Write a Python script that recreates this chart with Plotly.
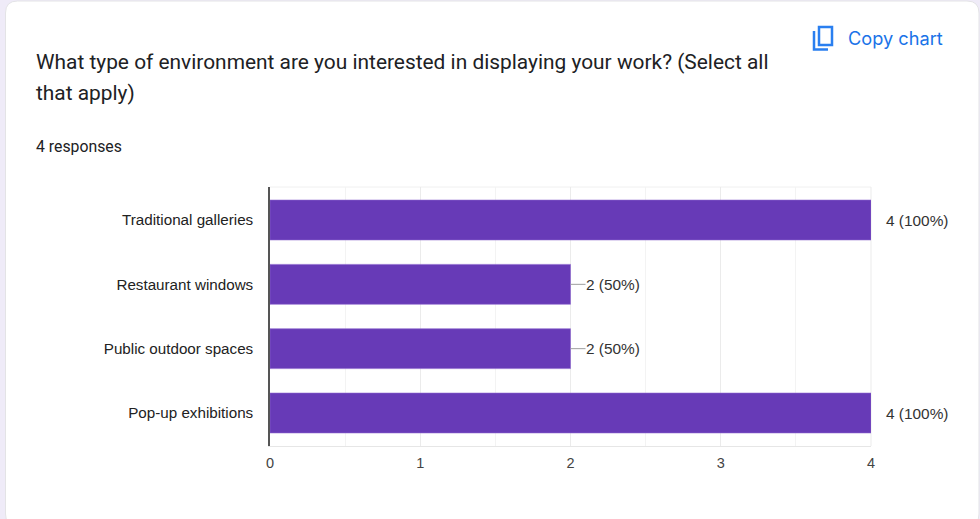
import plotly.graph_objects as go

W, H = 980, 519
PLOT_L, PLOT_R, PLOT_T, PLOT_B = 270, 871, 187, 446

categories = ["Traditional galleries", "Restaurant windows", "Public outdoor spaces", "Pop-up exhibitions"]
counts = [4, 2, 2, 4]
responses = 4
x_ticks = [0, 1, 2, 3, 4]
leader_lengths = [0.02, 0.1, 0.1, 0.02]

title_lines = ["What type of environment are you interested in displaying your work? (Select all", "that apply)"]
subtitle = f"{responses} responses"
action_label = "Copy chart"


def px(x):
    return (x - PLOT_L) / (PLOT_R - PLOT_L)


def py(y):
    return (PLOT_B - y) / (PLOT_B - PLOT_T)


def rounded_rect(x0, y0, x1, y1, r):
    return (
        f"M {px(x0 + r)} {py(y0)} L {px(x1 - r)} {py(y0)} "
        f"Q {px(x1)} {py(y0)} {px(x1)} {py(y0 + r)} L {px(x1)} {py(y1 - r)} "
        f"Q {px(x1)} {py(y1)} {px(x1 - r)} {py(y1)} L {px(x0 + r)} {py(y1)} "
        f"Q {px(x0)} {py(y1)} {px(x0)} {py(y1 - r)} L {px(x0)} {py(y0 + r)} "
        f"Q {px(x0)} {py(y0)} {px(x0 + r)} {py(y0)} Z"
    )


fig = go.Figure()
fig.add_trace(go.Bar(
    x=counts,
    y=categories,
    orientation="h",
    width=0.62,
    marker=dict(color="#673ab7", line=dict(color="#8a63cc", width=0.6)),
    error_x=dict(type="data", symmetric=False, array=leader_lengths, arrayminus=[0] * 4,
                 color="#9e9e9e", thickness=1, width=0),
    hoverinfo="skip",
    cliponaxis=False,
))

annotations = [
    dict(x=v, y=c, xref="x", yref="y", text=f"{v} ({v / responses:.0%})", showarrow=False,
         xanchor="left", xshift=13, font=dict(family="Liberation Sans", size=15.4, color="#333333"))
    for c, v in zip(categories, counts)
]
for i, line in enumerate(title_lines):
    annotations.append(dict(x=px(34), y=py(62 + 31 * i), xref="paper", yref="paper", text=line, showarrow=False,
                            xanchor="left", yanchor="middle",
                            font=dict(family="Roboto", size=20.9, color="#202124")))
annotations.append(dict(x=px(34), y=py(146), xref="paper", yref="paper", text=subtitle, showarrow=False,
                        xanchor="left", yanchor="middle", font=dict(family="Roboto", size=15.8, color="#202124")))
annotations.append(dict(x=px(846), y=py(38.5), xref="paper", yref="paper", text=action_label, showarrow=False,
                        xanchor="left", yanchor="middle", font=dict(family="Inter", size=18.2, color="#1a73e8")))

shapes = [
    # card behind the chart
    dict(type="path", xref="paper", yref="paper", path=rounded_rect(5.5, 1, 979, 526, 12), layer="below",
         fillcolor="#ffffff", line=dict(color="#e3e3e6", width=1)),
    # plot frame
    dict(type="line", xref="paper", yref="paper", x0=0, x1=1, y0=1, y1=1, layer="below",
         line=dict(color="#f0f0f0", width=1)),
    dict(type="line", xref="paper", yref="paper", x0=1, x1=1, y0=0, y1=1, layer="below",
         line=dict(color="#ebebeb", width=1)),
    # copy icon
    dict(type="path", xref="paper", yref="paper", line=dict(color="#2a7ff0", width=2.5),
         path=f"M {px(819)} {py(27)} L {px(832)} {py(27)} L {px(832)} {py(45)} L {px(819)} {py(45)} Z"),
    dict(type="path", xref="paper", yref="paper", line=dict(color="#2a7ff0", width=2.5),
         path=f"M {px(814)} {py(31)} L {px(814)} {py(49.5)} L {px(828)} {py(49.5)}"),
]

fig.update_layout(
    width=W,
    height=H,
    autosize=False,
    margin=dict(l=PLOT_L, r=W - PLOT_R, t=PLOT_T, b=H - PLOT_B, pad=0),
    paper_bgcolor="#efebf8",
    plot_bgcolor="rgba(0,0,0,0)",
    showlegend=False,
    shapes=shapes,
    annotations=annotations,
    xaxis=dict(
        range=[0, 4],
        tickmode="array",
        tickvals=x_ticks,
        ticks="",
        showgrid=True,
        gridcolor="#ebebeb",
        gridwidth=1,
        minor=dict(dtick=0.5, showgrid=True, gridcolor="#f3f3f3", gridwidth=1),
        zeroline=False,
        showline=True,
        linecolor="#e6e6e6",
        linewidth=1,
        ticklabelstandoff=4,
        tickfont=dict(family="Liberation Sans", size=14.5, color="#444444"),
    ),
    yaxis=dict(
        type="category",
        categoryorder="array",
        categoryarray=categories,
        range=[3.513, -0.513],
        ticks="",
        showgrid=False,
        zeroline=False,
        showline=True,
        linecolor="#555555",
        linewidth=1.5,
        ticklabelstandoff=12,
        tickfont=dict(family="Liberation Sans", size=15.2, color="#222222"),
    ),
)

fig.write_html("out.html", config=dict(displayModeBar=False))
